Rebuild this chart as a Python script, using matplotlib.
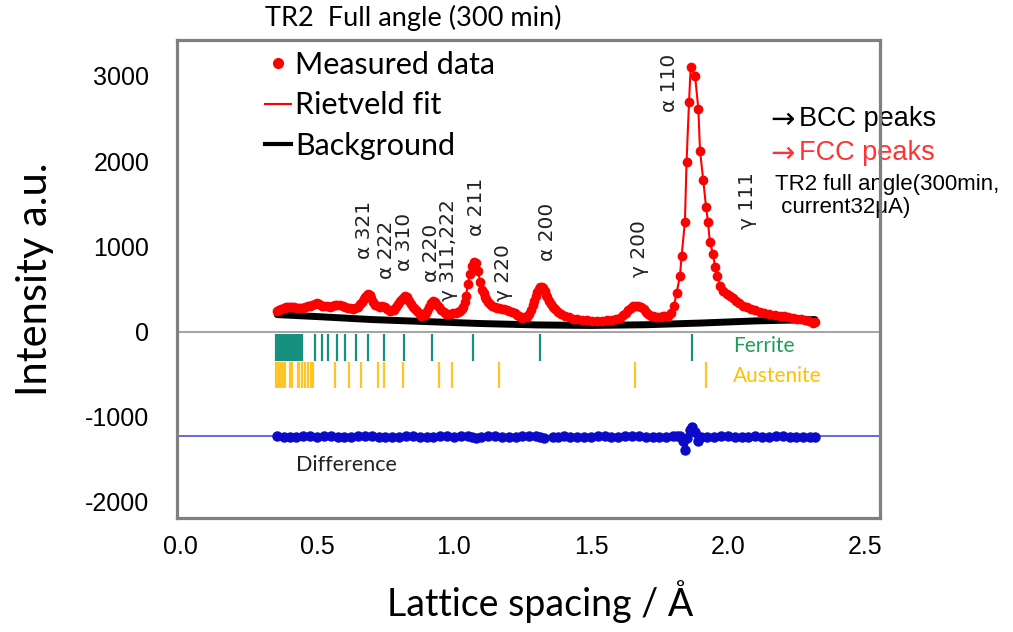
import matplotlib
matplotlib.use("Agg")
import matplotlib.pyplot as plt
from matplotlib.lines import Line2D

plt.rcParams['axes.unicode_minus'] = False

# measured pattern (d-spacing in Å, intensity)
d_meas = [0.354, 0.362, 0.370, 0.378, 0.386, 0.394, 0.401, 0.409, 0.417, 0.427,
          0.435, 0.442, 0.449, 0.457, 0.466, 0.474, 0.482, 0.491, 0.500, 0.509,
          0.518, 0.527, 0.537, 0.547, 0.556, 0.565, 0.573, 0.584, 0.595, 0.604,
          0.613, 0.622, 0.631, 0.640, 0.650, 0.657, 0.664, 0.670, 0.675, 0.681,
          0.686, 0.692, 0.697, 0.704, 0.712, 0.721, 0.730, 0.739, 0.748, 0.757,
          0.766, 0.774, 0.781, 0.789, 0.796, 0.803, 0.810, 0.816, 0.821, 0.828,
          0.836, 0.843, 0.850, 0.858, 0.865, 0.872, 0.880, 0.887, 0.894, 0.902,
          0.909, 0.916, 0.923, 0.931, 0.938, 0.945, 0.953, 0.962, 0.971, 0.980,
          0.989, 0.998, 1.007, 1.015, 1.022, 1.028, 1.033, 1.039, 1.044, 1.051,
          1.058, 1.066, 1.073, 1.080, 1.088, 1.095, 1.102, 1.108, 1.113, 1.118,
          1.124, 1.131, 1.139, 1.148, 1.157, 1.166, 1.175, 1.184, 1.193, 1.202,
          1.212, 1.221, 1.230, 1.239, 1.248, 1.257, 1.266, 1.274, 1.281, 1.287,
          1.292, 1.298, 1.303, 1.309, 1.314, 1.320, 1.325, 1.331, 1.336, 1.341,
          1.347, 1.354, 1.361, 1.370, 1.380, 1.392, 1.405, 1.419, 1.434, 1.450,
          1.467, 1.485, 1.504, 1.522, 1.540, 1.558, 1.577, 1.592, 1.606, 1.617,
          1.628, 1.637, 1.646, 1.655, 1.664, 1.673, 1.682, 1.692, 1.701, 1.710,
          1.719, 1.728, 1.737, 1.746, 1.755, 1.763, 1.770, 1.781, 1.792, 1.803,
          1.813, 1.825, 1.831, 1.843, 1.849, 1.858, 1.864, 1.880, 1.892, 1.898,
          1.910, 1.920, 1.927, 1.934, 1.945, 1.953, 1.960, 1.971, 1.982, 1.996,
          2.007, 2.018, 2.030, 2.042, 2.055, 2.070, 2.085, 2.100, 2.117, 2.133,
          2.150, 2.170, 2.190, 2.205, 2.220, 2.236, 2.252, 2.266, 2.280, 2.295,
          2.310, 2.318]
i_meas = [246, 258, 270, 275, 285, 290, 293, 288, 283, 281,
          278, 282, 281, 290, 300, 305, 312, 325, 340, 322,
          305, 300, 296, 293, 300, 310, 316, 310, 305, 292,
          281, 275, 270, 280, 293, 320, 352, 385, 410, 435,
          445, 425, 398, 350, 316, 300, 293, 295, 293, 270,
          246, 250, 258, 290, 328, 360, 387, 410, 422, 400,
          363, 325, 293, 265, 246, 215, 188, 190, 199, 245,
          293, 335, 363, 345, 316, 285, 258, 230, 211, 208,
          211, 218, 223, 232, 246, 265, 293, 350, 422, 563,
          680, 774, 820, 809, 715, 586, 492, 450, 410, 380,
          352, 325, 305, 292, 281, 275, 270, 265, 258, 245,
          234, 215, 199, 180, 164, 168, 176, 210, 258, 310,
          363, 420, 469, 505, 527, 525, 516, 480, 434, 400,
          363, 325, 293, 260, 234, 210, 188, 168, 152, 146,
          141, 134, 129, 128, 129, 134, 141, 150, 164, 190,
          223, 255, 281, 298, 305, 300, 293, 265, 234, 208,
          188, 180, 176, 175, 176, 182, 188, 188, 223, 305,
          457, 656, 891, 1290, 1993, 2696, 3106, 3000, 2614, 2125,
          1774, 1465, 1290, 1055, 914, 762, 656, 539, 480, 440,
          422, 390, 360, 330, 305, 288, 270, 252, 234, 222,
          211, 200, 188, 180, 170, 160, 152, 150, 140, 125,
          106, 117]

d_bkg = [0.355, 0.5, 0.7, 0.9, 1.1, 1.3, 1.5, 1.7, 1.9, 2.1, 2.318]
i_bkg = [199, 176, 141, 117, 94, 78, 72, 80, 100, 125, 141]

d_diff = [0.355, 0.378, 0.40, 0.425, 0.45, 0.475, 0.50, 0.525, 0.55, 0.575,
          0.60, 0.625, 0.65, 0.675, 0.70, 0.725, 0.75, 0.775, 0.80, 0.825,
          0.85, 0.875, 0.90, 0.925, 0.95, 0.975, 1.00, 1.025, 1.05, 1.065,
          1.08, 1.10, 1.125, 1.15, 1.175, 1.20, 1.225, 1.25, 1.275, 1.30,
          1.315, 1.33, 1.36, 1.38, 1.40, 1.425, 1.45, 1.475, 1.50, 1.525,
          1.55, 1.575, 1.60, 1.625, 1.65, 1.675, 1.70, 1.725, 1.75, 1.775,
          1.80, 1.815, 1.825, 1.835, 1.843, 1.852, 1.860, 1.868, 1.878, 1.890,
          1.900, 1.925, 1.95, 1.975, 2.00, 2.025, 2.05, 2.075, 2.10, 2.125,
          2.15, 2.175, 2.20, 2.225, 2.25, 2.275, 2.30, 2.318]
i_diff = [-1225, -1232, -1240, -1236, -1230, -1228, -1235, -1230, -1225, -1232,
          -1240, -1236, -1230, -1226, -1228, -1234, -1238, -1233, -1232, -1228,
          -1226, -1232, -1240, -1236, -1230, -1226, -1235, -1228, -1220, -1232,
          -1255, -1232, -1228, -1230, -1234, -1238, -1233, -1228, -1224, -1222,
          -1232, -1250, -1235, -1232, -1230, -1234, -1238, -1235, -1232, -1230,
          -1228, -1232, -1236, -1230, -1225, -1228, -1232, -1236, -1238, -1233,
          -1228, -1226, -1220, -1290, -1390, -1250, -1150, -1115, -1180, -1280,
          -1240, -1232, -1235, -1230, -1228, -1234, -1238, -1233, -1230, -1232,
          -1236, -1230, -1226, -1232, -1238, -1234, -1232, -1235]
diff_level = -1231

ferrite_d = [0.350, 0.356, 0.362, 0.368, 0.374, 0.380, 0.386, 0.392, 0.398, 0.404,
             0.410, 0.416, 0.421, 0.426, 0.431, 0.436, 0.441, 0.446,
             0.493, 0.518, 0.540, 0.573, 0.602, 0.642, 0.686, 0.745, 0.818,
             0.920, 1.069, 1.314, 1.869]
austenite_d = [0.350, 0.355, 0.360, 0.365, 0.370, 0.375, 0.380, 0.385,
               0.402, 0.410, 0.430, 0.436, 0.446, 0.455, 0.469, 0.478, 0.485,
               0.566, 0.617, 0.661, 0.723, 0.745, 0.814, 0.945, 0.993,
               1.164, 1.661, 1.920]

peak_labels = ['α 321', 'α 222', 'α 310', 'α 220', 'γ 311,222', 'α 211',
               'γ 220', 'α 200', 'γ 200', 'α 110', 'γ 111']
peak_d = [0.675, 0.752, 0.818, 0.918, 0.980, 1.084, 1.179, 1.343, 1.679, 1.788, 2.073]
peak_y = [856, 620, 715, 586, 363, 1126, 363, 832, 645, 2579, 1208]

fig = plt.figure(figsize=(10.13, 6.32), dpi=100)
ax = fig.add_axes([0.1747, 0.1804, 0.694, 0.7563])

ax.axhline(0, color='#a6a6a6', lw=1.5, zorder=1)
ax.axhline(diff_level, color='#5a5ae6', lw=1.3, zorder=1)

ax.plot(d_bkg, i_bkg, color='black', lw=5, solid_capstyle='round', zorder=2)
ax.plot(d_meas, i_meas, color='red', lw=1.5, zorder=3)
ax.plot(d_meas, i_meas, 'o', color='red', ms=6, zorder=4)
ax.plot(d_diff, i_diff, 'o-', color='#0a0ac8', ms=6.5, lw=3, zorder=3)

ax.vlines(ferrite_d, -340, -25, color='#17917f', lw=1.6)
ax.vlines(austenite_d, -668, -352, color='#ffc425', lw=1.6)

for lab, x, y in zip(peak_labels, peak_d, peak_y):
    ax.text(x, y, lab, rotation=90, ha='center', va='bottom',
            fontsize=14.5, color='#222222', family='DejaVu Sans')

ax.text(2.018, -164, 'Ferrite', color='#1f9e57', fontsize=15, family='Lato', va='center')
ax.text(2.018, -516, 'Austenite', color='#ffc000', fontsize=15, family='Lato', va='center')
ax.text(0.423, -1570, 'Difference', color='#222222', fontsize=15.5, family='Lato', va='center')

ax.set_xlim(-0.011, 2.555)
ax.set_ylim(-2188, 3422)
ax.set_xticks([0.0, 0.5, 1.0, 1.5, 2.0, 2.5])
ax.set_yticks([-2000, -1000, 0, 1000, 2000, 3000])
ax.tick_params(length=0, labelsize=18)
ax.tick_params(axis='x', pad=12)
ax.tick_params(axis='y', pad=20)
for lbl in ax.get_xticklabels() + ax.get_yticklabels():
    lbl.set_family('Liberation Sans')

for sp in ax.spines.values():
    sp.set_color('#808080')
    sp.set_linewidth(2.3)
    sp.set_zorder(6)

ax.set_ylabel('Intensity a.u.', fontsize=30, family='Lato', labelpad=22)
ax.set_xlabel('Lattice spacing / Å', fontsize=27, family='Lato', labelpad=16)
ax.xaxis.set_label_coords(0.516, -0.13)

handles = [Line2D([], [], ls='none', marker='o', color='red', ms=7),
           Line2D([], [], color='red', lw=1.5),
           Line2D([], [], color='black', lw=3)]
ax.legend(handles, ['Measured data', 'Rietveld fit', 'Background'],
          loc='upper left', bbox_to_anchor=(0.125, 0.978), frameon=False,
          prop={'family': 'Lato', 'size': 22}, handlelength=0.85, handletextpad=0.15,
          labelspacing=0.42, borderaxespad=0, borderpad=0)

fig.text(265 / 1013, 1 - 18 / 632, 'TR2  Full angle (300 min)', fontsize=19.5,
         family='Lato', va='center', ha='left')

# right-hand notes; arrows drawn in DejaVu Sans for a longer glyph
for y, word, col in [(0.832, 'BCC peaks', 'black'), (0.778, 'FCC peaks', '#ff3333')]:
    ax.text(0.760, y, '→', transform=fig.transFigure, fontsize=21,
            family='DejaVu Sans', va='top', color=col, zorder=3)
    ax.text(0.789, y, word, transform=fig.transFigure, fontsize=19.5,
            family='Liberation Sans', va='top', color=col, zorder=3)
ax.text(0.765, 0.724, 'TR2 full angle(300min,\n current32μA)', transform=fig.transFigure,
        fontsize=16, family=['Liberation Sans', 'DejaVu Sans'], va='top',
        linespacing=1.1, color='black', zorder=3)

fig.savefig('out.png', dpi=100)
